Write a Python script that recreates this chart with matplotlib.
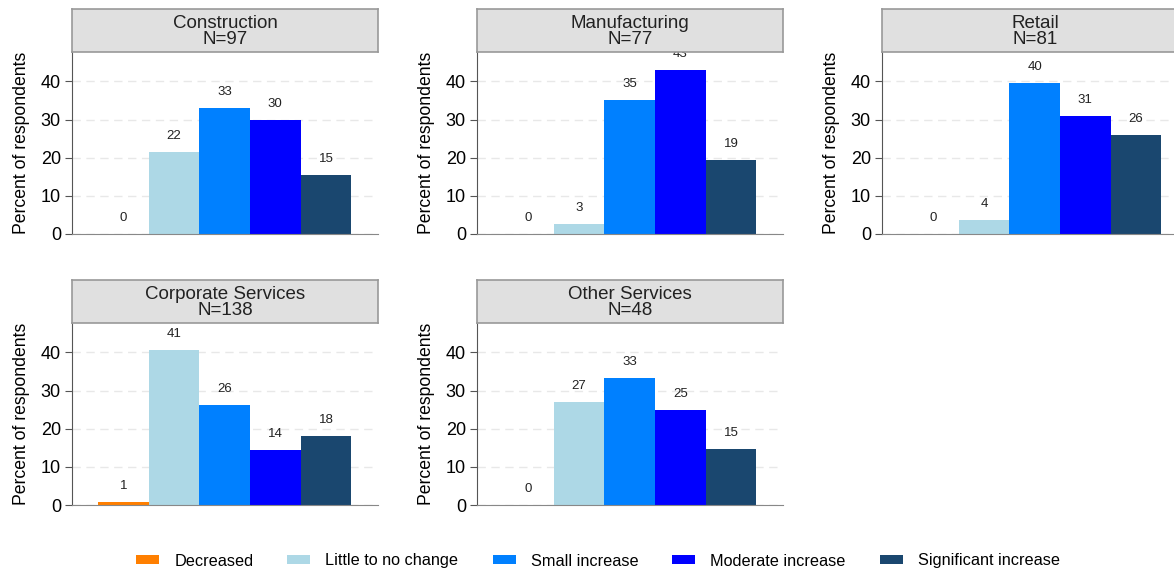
import matplotlib.pyplot as plt
from matplotlib.patches import Patch

plt.rcParams['font.family'] = ['Liberation Sans', 'DejaVu Sans']

# categories and colours
cats = ["Decreased", "Little to no change", "Small increase",
        "Moderate increase", "Significant increase"]
colors = ["#ff7f00", "#add8e6", "#0080ff", "#0000ff", "#1a476f"]

# panels: name, N, percent values
panels = ["Construction", "Manufacturing", "Retail",
          "Corporate Services", "Other Services"]
n_resp = [97, 77, 81, 138, 48]
construction = [0.0, 21.6, 33.0, 29.9, 15.4]
manufacturing = [0.0, 2.6, 35.1, 42.9, 19.4]
retail = [0.0, 3.7, 39.5, 30.9, 25.9]
corporate = [0.7, 40.6, 26.1, 14.5, 18.1]
other = [0.0, 27.1, 33.3, 25.0, 14.6]
values = [construction, manufacturing, retail, corporate, other]

W, H = 1174, 571
fig = plt.figure(figsize=(W / 100, H / 100), dpi=100)

col_left = [72, 477, 882]
row_top = [52, 323]   # pixel y of plot top (bottom of title box)
plot_w, plot_h, box_h = 306, 182, 43

for i, name in enumerate(panels):
    r, c = divmod(i, 3)
    x0 = col_left[c]
    ytop = row_top[r]
    ax = fig.add_axes([x0 / W, (H - ytop - plot_h) / H, plot_w / W, plot_h / H])
    xs = range(len(cats))
    ax.bar(xs, values[i], width=1.0, color=colors, linewidth=0)
    for x, v in zip(xs, values[i]):
        ax.annotate(f"{v:.0f}", (x, v), xytext=(0, 16), textcoords="offset pixels",
                    ha="center", va="center", fontsize=9.5, color="#222222",
                    clip_on=True, annotation_clip=True)
    ax.set_xlim(-1.02, 5.03)
    ax.set_ylim(0, 47.7)
    ax.set_yticks([0, 10, 20, 30, 40])
    ax.set_xticks([])
    ax.tick_params(axis="y", labelsize=13, length=5, color="#555555", pad=3)
    ax.yaxis.grid(True, linestyle=(0, (6, 4)), color="#e8e8e8", linewidth=1)
    ax.set_axisbelow(True)
    for s in ["top", "right"]:
        ax.spines[s].set_visible(False)
    ax.spines["left"].set_color("#555555")
    ax.spines["bottom"].set_color("#888888")
    ax.set_ylabel("Percent of respondents", fontsize=12.7)
    ax.yaxis.set_label_coords(-42 / plot_w, 0.5)
    # title box
    tb = fig.add_axes([x0 / W, (H - ytop) / H, plot_w / W, box_h / H])
    tb.set_facecolor("#e0e0e0")
    tb.set_xticks([])
    tb.set_yticks([])
    for s in tb.spines.values():
        s.set_color("#999999")
        s.set_linewidth(1.2)
    tb.text(0.5, 0.47, f"{name}\nN={n_resp[i]}", ha="center", va="center",
            fontsize=13.5, linespacing=0.95, color="#222222", transform=tb.transAxes)

handles = [Patch(facecolor=col, edgecolor="none") for col in colors]
fig.legend(handles, cats, loc="center", bbox_to_anchor=(598 / W, 1 - 561 / H),
           ncol=5, frameon=False, fontsize=11.7, handlelength=1.42, handleheight=0.5,
           handletextpad=0.92, columnspacing=2.1)

fig.savefig("out.png", dpi=100)
